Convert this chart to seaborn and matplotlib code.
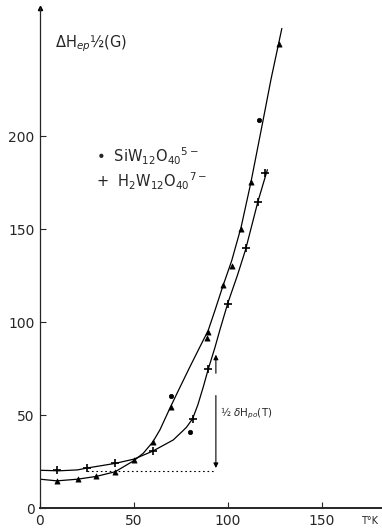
import numpy as np
import pandas as pd
import matplotlib
matplotlib.use("Agg")
import matplotlib.pyplot as plt
import seaborn as sns

# Messpunkte SiW12O40 5- (Dreiecke / Punkte)
si_T = [9, 20, 30, 40, 50, 60, 69.5, 88.7, 89.5, 97.2, 102, 107, 112.2, 127]
si_H = [14.5, 15.6, 17, 19.3, 25.8, 35.5, 54.5, 91.2, 94.8, 120, 130, 150, 175.4, 249.5]
si_dot_T = [69.5, 80, 116.5]
si_dot_H = [60, 41, 209]

# Messpunkte H2W12O40 7- (Kreuze)
h2_T = [9, 25, 40, 60, 81.2, 89.5, 100, 109.6, 116, 120]
h2_H = [20.4, 21.5, 24, 30.6, 47.7, 74.6, 110, 140, 164.5, 180]

# Kurven (von Hand gezogen im Original)
si_curve_T = [0, 9, 20, 30, 40, 50, 55, 60, 63.8, 69.5, 74.5, 79.8, 84.5, 89.5, 93, 97.2, 102,
              107, 112.2, 118.6, 123, 128.7]
si_curve_H = [15.5, 14.6, 15.5, 17, 19.5, 25.5, 29.5, 35.5, 42, 54.5, 65, 76, 85.5, 95.5, 106, 119,
              133, 151, 175, 208, 231, 258]
h2_curve_T = [0, 10, 20, 25, 40, 50, 60, 70.9, 76, 78, 81.2, 84, 87, 89.5, 93, 95.7, 100,
              105, 109.4, 116, 121]
h2_curve_H = [20.3, 20, 20.5, 21.5, 24, 26.3, 30.6, 36.6, 41.5, 43.5, 48, 55.5, 65.5, 74.6, 86,
              95.7, 110.4, 125, 139, 165, 182]

x_ticks = [0, 50, 100, 150]
y_ticks = [0, 50, 100, 150, 200]

sns.set_theme(style="ticks")
plt.rcParams['font.family'] = ['DejaVu Sans']

fig = plt.figure(figsize=(3.82, 5.30), dpi=100)
ax = fig.add_axes([40 / 382, 22 / 530, 342 / 382, 500 / 530])

si_line = pd.DataFrame({'T': si_curve_T, 'H': si_curve_H})
h2_line = pd.DataFrame({'T': h2_curve_T, 'H': h2_curve_H})
sns.lineplot(x='T', y='H', data=si_line, ax=ax, color='black', lw=0.9, sort=False)
sns.lineplot(x='T', y='H', data=h2_line, ax=ax, color='black', lw=0.9, sort=False)

sns.scatterplot(x=si_T, y=si_H, ax=ax, marker='^', s=14, color='black', edgecolor='black', linewidth=0.5)
sns.scatterplot(x=si_dot_T, y=si_dot_H, ax=ax, marker='o', s=10, color='black', edgecolor='black', linewidth=0.5)
sns.scatterplot(x=h2_T, y=h2_H, ax=ax, marker='+', s=30, color='black', linewidth=1.2)

# gepunktete Linie und Pfeil
ax.plot([25, 93], [20, 20], ls=(0, (1.5, 2.5)), color='black', lw=0.8)
ax.annotate('', xy=(93.6, 20), xytext=(93.6, 62),
            arrowprops=dict(arrowstyle='-|>', color='black', lw=0.8, mutation_scale=7))
ax.annotate('', xy=(93.6, 84), xytext=(93.6, 71),
            arrowprops=dict(arrowstyle='-|>', color='black', lw=0.8, mutation_scale=7))
ax.text(96, 51, r'½ $\delta$H$_{po}$(T)', fontsize=7.5, va='center', ha='left')

ax.text(8, 250, r'$\Delta$H$_{ep}$½(G)', fontsize=10.5, va='center', ha='left')
ax.text(30, 189, '•  SiW$_{12}$O$_{40}$$^{5-}$', fontsize=10.5, va='center', ha='left')
ax.text(30, 176, '+  H$_2$W$_{12}$O$_{40}$$^{7-}$', fontsize=10.5, va='center', ha='left')

ax.set_xlim(0, 182)
ax.set_ylim(0, 269)
ax.set_xticks(x_ticks)
ax.set_yticks(y_ticks)
ax.set_xlabel('')
ax.set_ylabel('')
ax.tick_params(direction='in', length=4, width=0.8, labelsize=10, pad=4)
ax.text(0.988, -0.026, 'T°K', transform=ax.transAxes, fontsize=7, ha='right', va='center')

for side in ['top', 'right']:
    ax.spines[side].set_visible(False)
ax.spines['left'].set_linewidth(0.9)
ax.spines['bottom'].set_linewidth(1.4)
ax.plot(0, 1, marker='^', transform=ax.transAxes, color='black', ms=3, clip_on=False)

fig.savefig('out.png', dpi=100)
